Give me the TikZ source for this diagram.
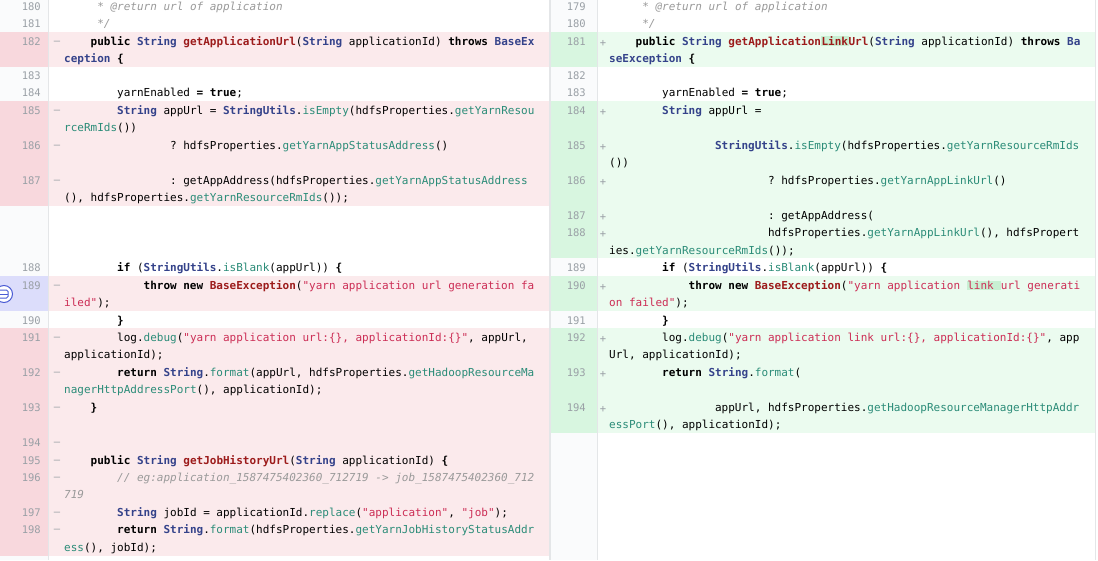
\documentclass[tikz,border=0pt]{standalone}
\usepackage{fontspec}
\setmonofont{DejaVu Sans Mono}
\definecolor{tyc}{HTML}{34428A}
\definecolor{fnc}{HTML}{9C1B1B}
\definecolor{mcc}{HTML}{2B8C78}
\definecolor{stc}{HTML}{CC2D55}
\definecolor{cmc}{HTML}{9A9A9A}
\definecolor{numc}{HTML}{9AA0A6}
\definecolor{pinkbg}{HTML}{FBEAEC}
\definecolor{pinknum}{HTML}{F8D8DD}
\definecolor{greenbg}{HTML}{EBFBEF}
\definecolor{greennum}{HTML}{D8F6E0}
\definecolor{lav}{HTML}{DCDDFB}
\definecolor{numbg}{HTML}{FAFBFC}
\definecolor{linkhl}{HTML}{C8F0D2}
\definecolor{border}{HTML}{E4E6E8}
\definecolor{iconc}{HTML}{4A5BD4}
\newcommand\Kw[1]{\textbf{#1}}
\newcommand\Ty[1]{\textcolor{tyc}{\textbf{#1}}}
\newcommand\Fn[1]{\textcolor{fnc}{\textbf{#1}}}
\newcommand\Mc[1]{\textcolor{mcc}{#1}}
\newcommand\St[1]{\textcolor{stc}{#1}}
\newcommand\Cm[1]{\textcolor{cmc}{\textit{#1}}}
\newcommand\HL[1]{{\setlength\fboxsep{0.5pt}\colorbox{linkhl}{#1}}}
\newcommand\LL[4]{\node[code] (#1) at ({64+#2*6.62},#3) {#4};}
\newcommand\RR[4]{\node[code] (#1) at ({609+#2*6.62},#3) {#4};}
\newcommand\LN[3]{\node[num] (#1) at (41,#2) {#3};}
\newcommand\RN[3]{\node[num] (#1) at (586,#2) {#3};}
\begin{document}
\begin{tikzpicture}[x=1pt,y=-1pt,
  code/.style={anchor=west,inner sep=0pt,yshift=-2pt,text height=8pt,text depth=2.5pt,font=\ttfamily\fontsize{11}{13}\selectfont},
  num/.style={anchor=east,inner sep=0pt,yshift=-2pt,text height=8pt,text depth=2.5pt,text=numc,font=\ttfamily\fontsize{10.5}{12}\selectfont},
  sign/.style={inner sep=0pt,yshift=-2pt,text=numc,font=\ttfamily\fontsize{10.5}{12}\selectfont}]
\useasboundingbox (0,0) rectangle (1098,560);
\fill[white] (0,0) rectangle (1098,560);
% number columns
\fill[numbg] (0,0) rectangle (48,560);
\fill[numbg] (551,0) rectangle (597,560);
% left pink
\foreach \a/\b in {32/67,101/206,276/311,328/556}{
  \fill[pinkbg] (48,\a) rectangle (549,\b);
  \fill[pinknum] (0,\a) rectangle (48,\b);}
\fill[lav] (0,276) rectangle (48,311);
% right green
\foreach \a/\b in {32/67,101/258,276/311,328/433}{
  \fill[greenbg] (597,\a) rectangle (1095,\b);
  \fill[greennum] (551,\a) rectangle (597,\b);}
\draw[border] (48,0) -- (48,560);
\draw[border] (597,0) -- (597,560);
\draw[border,line width=1.5pt] (550,0) -- (550,560);
\draw[border] (1095.5,0) -- (1095.5,560);
% left numbers
\LN{ln180}{6}{180} \LN{ln181}{23}{181} \LN{ln182}{41}{182} \LN{ln183}{75}{183}
\LN{ln184}{92}{184} \LN{ln185}{110}{185} \LN{ln186}{145}{186} \LN{ln187}{180}{187}
\LN{ln188}{267}{188} \LN{ln189}{285}{189} \LN{ln190}{320}{190} \LN{ln191}{337}{191}
\LN{ln192}{372}{192} \LN{ln193}{407}{193} \LN{ln194}{442}{194} \LN{ln195}{460}{195}
\LN{ln196}{477}{196} \LN{ln197}{512}{197} \LN{ln198}{529}{198}
\foreach \y [count=\i] in {41,110,145,180,285,337,372,407,442,460,477,512,529}
  \node[sign] (lm\i) at (57,\y) {–};
% right numbers
\RN{rn179}{6}{179} \RN{rn180}{23}{180} \RN{rn181}{41}{181} \RN{rn182}{75}{182}
\RN{rn183}{92}{183} \RN{rn184}{110}{184} \RN{rn185}{145}{185} \RN{rn186}{180}{186}
\RN{rn187}{215}{187} \RN{rn188}{232}{188} \RN{rn189}{267}{189} \RN{rn190}{285}{190}
\RN{rn191}{320}{191} \RN{rn192}{337}{192} \RN{rn193}{372}{193} \RN{rn194}{407}{194}
\foreach \y [count=\i] in {41,110,145,180,215,232,285,337,372,407}
  \node[sign] (rp\i) at (603,\y) {+};
% left code
\LL{l180}{5}{6}{\Cm{* @return url of application}}
\LL{l181}{5}{23}{\Cm{*/}}
\LL{l182}{4}{41}{\Kw{public} \Ty{String} \Fn{getApplicationUrl}(\Ty{String} applicationId) \Kw{throws} \Ty{BaseEx}}
\LL{l182b}{0}{58}{\Ty{ception} \Kw{\{}}
\LL{l184}{8}{92}{yarnEnabled \Kw{=} \Kw{true};}
\LL{l185}{8}{110}{\Ty{String} appUrl = \Ty{StringUtils}.\Mc{isEmpty}(hdfsProperties.\Mc{getYarnResou}}
\LL{l185b}{0}{127}{\Mc{rceRmIds}())}
\LL{l186}{16}{145}{? hdfsProperties.\Mc{getYarnAppStatusAddress}()}
\LL{l187}{16}{180}{: getAppAddress(hdfsProperties.\Mc{getYarnAppStatusAddress}}
\LL{l187b}{0}{197}{(), hdfsProperties.\Mc{getYarnResourceRmIds}());}
\LL{l188}{8}{267}{\Kw{if} (\Ty{StringUtils}.\Mc{isBlank}(appUrl)) \Kw{\{}}
\LL{l189}{12}{285}{\Kw{throw new} \Fn{BaseException}(\St{"yarn application url generation fa}}
\LL{l189b}{0}{302}{\St{iled"});}
\LL{l190}{8}{320}{\Kw{\}}}
\LL{l191}{8}{337}{log.\Mc{debug}(\St{"yarn application url:\{\}, applicationId:\{\}"}, appUrl,}
\LL{l191b}{0}{354}{applicationId);}
\LL{l192}{8}{372}{\Kw{return} \Ty{String}.\Mc{format}(appUrl, hdfsProperties.\Mc{getHadoopResourceMa}}
\LL{l192b}{0}{389}{\Mc{nagerHttpAddressPort}(), applicationId);}
\LL{l193}{4}{407}{\Kw{\}}}
\LL{l195}{4}{460}{\Kw{public} \Ty{String} \Fn{getJobHistoryUrl}(\Ty{String} applicationId) \Kw{\{}}
\LL{l196}{8}{477}{\Cm{// eg:application\_1587475402360\_712719 -> job\_1587475402360\_712}}
\LL{l196b}{0}{494}{\Cm{719}}
\LL{l197}{8}{512}{\Ty{String} jobId = applicationId.\Mc{replace}(\St{"application"}, \St{"job"});}
\LL{l198}{8}{529}{\Kw{return} \Ty{String}.\Mc{format}(hdfsProperties.\Mc{getYarnJobHistoryStatusAddr}}
\LL{l198b}{0}{547}{\Mc{ess}(), jobId);}
% right code
\RR{r179}{5}{6}{\Cm{* @return url of application}}
\RR{r180}{5}{23}{\Cm{*/}}
\RR{r181}{4}{41}{\Kw{public} \Ty{String} \Fn{getApplication\HL{Link}Url}(\Ty{String} applicationId) \Kw{throws} \Ty{Ba}}
\RR{r181b}{0}{58}{\Ty{seException} \Kw{\{}}
\RR{r183}{8}{92}{yarnEnabled \Kw{=} \Kw{true};}
\RR{r184}{8}{110}{\Ty{String} appUrl =}
\RR{r185}{16}{145}{\Ty{StringUtils}.\Mc{isEmpty}(hdfsProperties.\Mc{getYarnResourceRmIds}}
\RR{r185b}{0}{162}{())}
\RR{r186}{24}{180}{? hdfsProperties.\Mc{getYarnAppLinkUrl}()}
\RR{r187}{24}{215}{: getAppAddress(}
\RR{r188}{24}{232}{hdfsProperties.\Mc{getYarnAppLinkUrl}(), hdfsPropert}
\RR{r188b}{0}{250}{ies.\Mc{getYarnResourceRmIds}());}
\RR{r189}{8}{267}{\Kw{if} (\Ty{StringUtils}.\Mc{isBlank}(appUrl)) \Kw{\{}}
\RR{r190}{12}{285}{\Kw{throw new} \Fn{BaseException}(\St{"yarn application \HL{link }url generati}}
\RR{r190b}{0}{302}{\St{on failed"});}
\RR{r191}{8}{320}{\Kw{\}}}
\RR{r192}{8}{337}{log.\Mc{debug}(\St{"yarn application link url:\{\}, applicationId:\{\}"}, app}
\RR{r192b}{0}{354}{Url, applicationId);}
\RR{r193}{8}{372}{\Kw{return} \Ty{String}.\Mc{format}(}
\RR{r194}{16}{407}{appUrl, hdfsProperties.\Mc{getHadoopResourceManagerHttpAddr}}
\RR{r194b}{0}{424}{\Mc{essPort}(), applicationId);}
% comment icon
\node[circle,draw=iconc,fill=white,line width=1pt,minimum size=17pt,inner sep=0pt] (icon) at (4,294) {};
\draw[iconc,line width=1pt,rounded corners=1.5pt] (-2,290) rectangle (8,298);
\draw[iconc,line width=0.8pt] (-2,294) -- (8,294);
\end{tikzpicture}
\end{document}
